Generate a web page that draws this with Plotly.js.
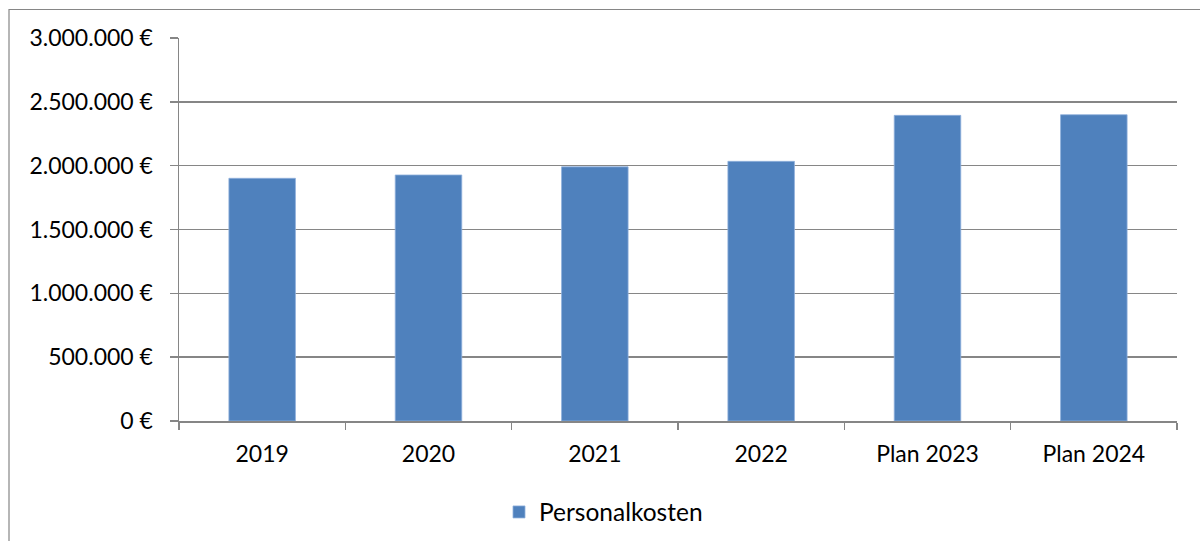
<!DOCTYPE html>
<html>
<head>
<meta charset="utf-8">
<script src="https://cdn.plot.ly/plotly-3.0.1.min.js"></script>
<style>
html,body{margin:0;padding:0;background:#fff;}
#chart{width:1200px;height:541px;}
</style>
</head>
<body>
<div id="chart"></div>
<script>
var categories = ["2019", "2020", "2021", "2022", "Plan 2023", "Plan 2024"];
var personalkosten = [1901000, 1927000, 1991000, 2034000, 2394000, 2399000];
var yTickVals = [0, 500000, 1000000, 1500000, 2000000, 2500000, 3000000];
var yTickText = ["0 €", "500.000 €", "1.000.000 €", "1.500.000 €", "2.000.000 €", "2.500.000 €", "3.000.000 €"];

var trace = {
  type: "bar",
  name: "Personalkosten",
  x: categories,
  y: personalkosten,
  marker: {color: "#4f81bd", line: {color: "#8fb0dc", width: 0.8}},
  hoverinfo: "x+y"
};

var layout = {
  width: 1200,
  height: 541,
  margin: {l: 179, r: 23, t: 38, b: 120, autoexpand: false},
  paper_bgcolor: "#ffffff",
  plot_bgcolor: "#ffffff",
  font: {family: "Lato, 'Open Sans', sans-serif", size: 23, color: "#000000"},
  bargap: 0.6,
  showlegend: true,
  legend: {
    orientation: "h",
    x: (499 - 179) / 998,
    xanchor: "left",
    y: (421 - 512) / 383,
    yanchor: "middle",
    font: {size: 24.5},
    itemwidth: 30
  },
  xaxis: {
    type: "category",
    showline: true,
    linecolor: "#868686",
    linewidth: 1.5,
    ticks: "outside",
    tickson: "boundaries",
    ticklen: 7,
    tickcolor: "#868686",
    tickwidth: 1.5,
    showgrid: false,
    zeroline: false,
    ticklabelstandoff: 12
  },
  yaxis: {
    range: [0, 3000000],
    tickvals: yTickVals,
    ticktext: yTickText,
    showline: true,
    linecolor: "#868686",
    linewidth: 1.5,
    ticks: "outside",
    ticklen: 8,
    tickcolor: "#868686",
    tickwidth: 1.5,
    showgrid: true,
    gridcolor: "#868686",
    gridwidth: 1.5,
    zeroline: false,
    ticklabelstandoff: 12
  },
  shapes: [{
    type: "rect",
    xref: "paper", yref: "paper",
    x0: (9 - 179) / 998, x1: 1.2,
    y0: -0.6, y1: 1 + (38 - 9.5) / 383,
    line: {color: "#868686", width: 1.2},
    fillcolor: "rgba(0,0,0,0)",
    layer: "below"
  }]
};

Plotly.newPlot("chart", [trace], layout, {displayModeBar: false, staticPlot: true});
</script>
</body>
</html>
